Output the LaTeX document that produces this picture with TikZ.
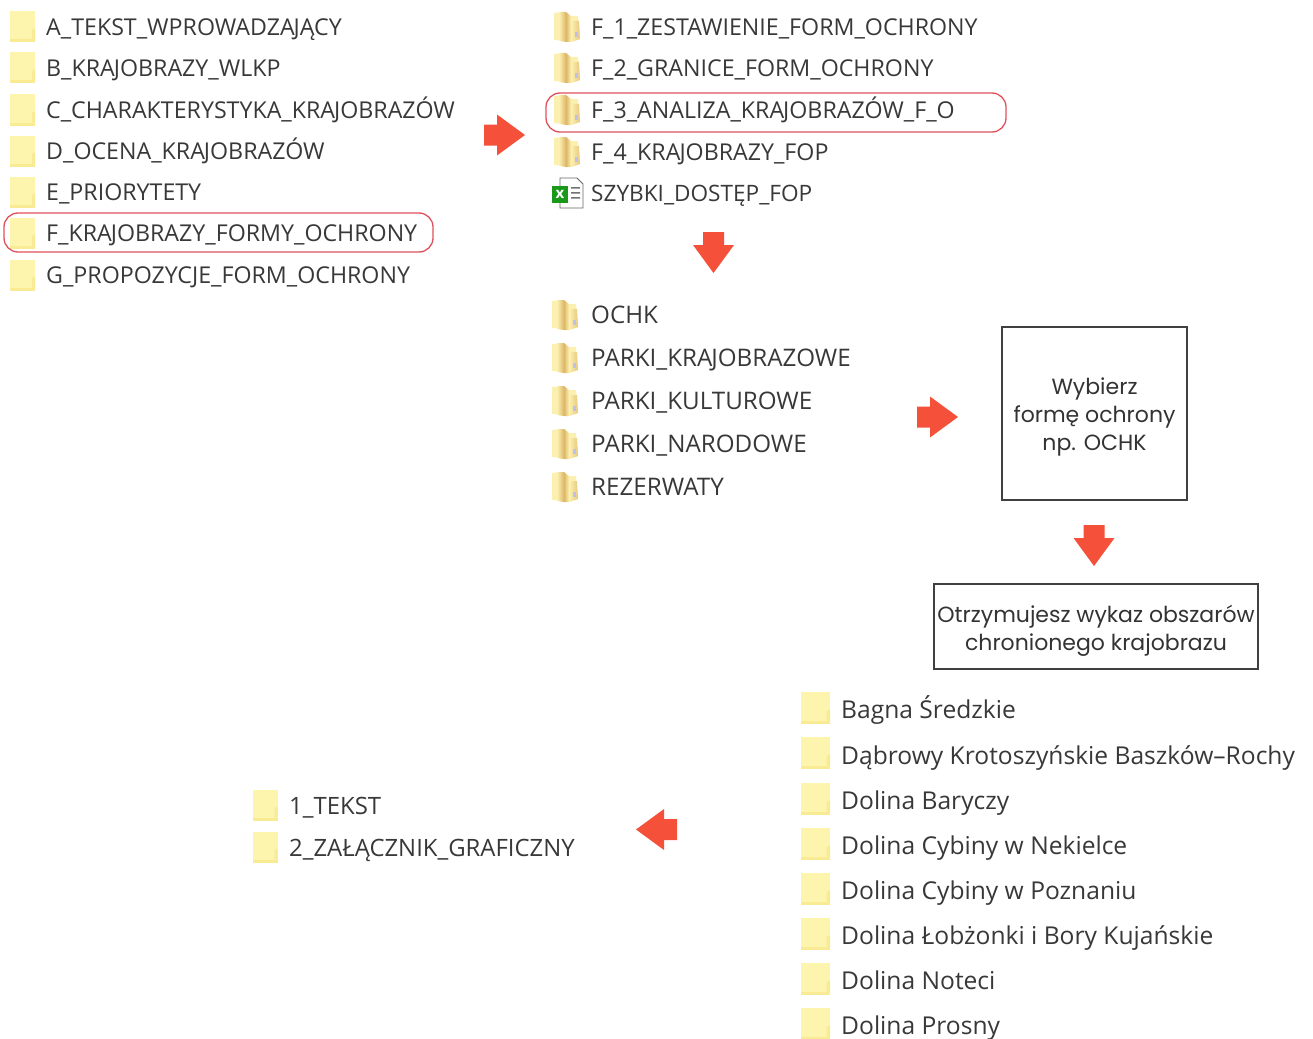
\documentclass[tikz,border=0pt]{standalone}
\usepackage{fontspec}
\setmainfont{Open Sans}
\newfontfamily\boxfont{Poppins}
\usetikzlibrary{shadings}
\definecolor{folderfill}{HTML}{FDF5AE}
\definecolor{foldertab}{HTML}{F9EB93}
\definecolor{openlight}{HTML}{FCF0B0}
\definecolor{opentan}{HTML}{DDB768}
\definecolor{arrowred}{HTML}{F4503A}
\definecolor{ringred}{HTML}{E0505A}
\definecolor{labelgrey}{HTML}{383838}
\newcommand{\jj}{\kern-1pt J}
\tikzset{
  lbl/.style={anchor=base west,inner sep=0pt,text=labelgrey,font=\fontsize{23.2}{25}\selectfont},
  lblmid/.style={lbl,font=\fontsize{23.9}{26}\selectfont},
  lblthird/.style={lbl,font=\fontsize{24.2}{26}\selectfont},
  lblbig/.style={lbl,font=\fontsize{24.6}{26}\selectfont},
  ring/.style={draw=ringred,line width=1.3pt,rounded corners=14pt},
  boxed/.style={draw=black!75,line width=1.5pt,align=center,text=black!80,inner sep=0pt,
    font=\boxfont\fontsize{22}{28}\selectfont},
  folder/.pic={
    \fill[folderfill] (-12.5,-15.5) rectangle (12.5,15.5);
    \fill[foldertab] (-12.5,12.5) rectangle (12.5,15.5);
    \fill[foldertab] (9.5,4) -- (11,1.5) -- (12.5,1.5) -- (12.5,12.5) -- (9.5,12.5) -- cycle;
  },
  bigfolder/.pic={
    \fill[folderfill] (-14.5,-16) rectangle (14.5,16);
    \fill[foldertab] (-14.5,13) rectangle (14.5,16);
    \fill[foldertab] (11,4) -- (12.5,1.5) -- (14.5,1.5) -- (14.5,13) -- (11,13) -- cycle;
  },
  openfolder/.pic={
    \fill[openlight] (-13,-14) -- (-2,-15) -- (-2,14) -- (-13,13) -- cycle;
    \shade[left color=openlight,right color=opentan] (-8,-15) -- (-1,-15) -- (-1,15) -- (-8,14) -- cycle;
    \shade[left color=opentan,right color=openlight] (-1,-15) -- (4,-11) -- (4,15) -- (-1,15) -- cycle;
    \fill[openlight] (4,-11) -- (11,-11) -- (13,12) -- (4,15) -- cycle;
    \shade[left color=openlight,right color=opentan!70!openlight] (4,-6) -- (12,-6) -- (13,12) -- (4,15) -- cycle;
    \fill[black!30!blue!25!white] (8,5) rectangle (11,10);
  },
  blockarrow/.pic={
    \fill[arrowred] (-20.5,-10.5) -- (-7.5,-10.5) -- (-7.5,-20.5) -- (20.5,0) -- (-7.5,20.5) -- (-7.5,10.5) -- (-20.5,10.5) -- cycle;
  },
  excelicon/.pic={
    \draw[black!60,fill=white,line width=0.8pt] (-7,-15) -- (10,-15) -- (16,-9) -- (16,15) -- (-7,15) -- cycle;
    \fill[black!55] (4,-6) rectangle (13,-4.5) (4,-1) rectangle (13,0.5) (4,4) rectangle (13,5.5);
    \fill[green!55!black!90!white] (-15,-7) rectangle (1,10);
    \node[inner sep=0pt,text=white,font=\bfseries\fontsize{15}{15}\selectfont] (xl) at (-7,1) {x};
  }
}
\begin{document}
\begin{tikzpicture}[x=1pt,y=-1pt]
\useasboundingbox (0,0) rectangle (1313,1038);
\clip (0,0) rectangle (1313,1038);
% first list
\foreach \n/\y/\t in {a/27/A\_TEKST\_WPROWADZA\jj ĄCY,b/68/B\_KRA\jj OBRAZY\_WLKP,c/110/C\_CHARAKTERYSTYKA\_KRA\jj OBRAZÓW,d/151/D\_OCENA\_KRA\jj OBRAZÓW,e/192/E\_PRIORYTETY,f/233/F\_KRA\jj OBRAZY\_FORMY\_OCHRONY,g/275/G\_PROPOZYCJE\_FORM\_OCHRONY}{
  \pic at (22.5,\y) {folder};
  \node[lbl] (list1\n) at (46,\y+8.5) {\t};
}
% second list
\foreach \n/\y/\t in {a/27/F\_1\_ZESTAWIENIE\_FORM\_OCHRONY,b/68/F\_2\_GRANICE\_FORM\_OCHRONY,c/110/F\_3\_ANALIZA\_KRA\jj OBRAZÓW\_F\_O,d/152/F\_4\_KRA\jj OBRAZY\_FOP}{
  \pic at (567,\y) {openfolder};
  \node[lbl] (list2\n) at (591,\y+8.5) {\t};
}
\pic at (567,193) {excelicon};
\node[lbl,font=\fontsize{22.6}{25}\selectfont] (list2e) at (591,201.5) {SZYBKI\_DOSTĘP\_FOP};
% third list
\foreach \n/\y/\t in {a/315/OCHK,b/358/PARKI\_KRA\jj OBRAZOWE,c/401/PARKI\_KULTUROWE,d/444/PARKI\_NARODOWE,e/487/REZERWATY}{
  \pic at (565,\y) {openfolder};
  \node[lblthird] (list3\n) at (591,\y+8.5) {\t};
}
% bottom-right list
\foreach \n/\y/\ty/\t in {a/708/709/Bagna Średzkie,b/753/755/Dąbrowy Krotoszyńskie Baszków–Rochy,c/799/800/Dolina Baryczy,d/844/845/Dolina Cybiny w Nekielce,e/889/890/Dolina Cybiny w Poznaniu,f/934/935/Dolina Łobżonki i Bory Kujańskie,g/979/980/Dolina Noteci,h/1024/1025/Dolina Prosny}{
  \pic at (815.5,\y) {bigfolder};
  \node[lblbig] (list4\n) at (841,\ty+9) {\t};
}
% last list
\pic at (265,805) {folder};
\node[lblmid] (list5a) at (289,814.5) {1\_TEKST};
\pic at (265,847) {folder};
\node[lblmid] (list5b) at (289,856.5) {2\_ZAŁĄCZNIK\_GRAFICZNY};
% highlight rings
\draw[ring] (4,213) rectangle (433,252);
\draw[ring] (546,93) rectangle (1006,132);
% boxes
\node[boxed,minimum width=185pt,minimum height=173pt] (choose) at (1094.5,413.5) {};
\node[inner sep=0pt,align=center,text=black!80,font=\boxfont\fontsize{22}{28}\selectfont] (choosetxt) at (1094.5,417) {Wybierz\\formę ochrony\\np. OCHK};
\node[boxed,minimum width=324pt,minimum height=85pt] (result) at (1096,626.5) {\\[-2pt]Otrzymujesz wykaz obszarów\\chronionego krajobrazu};
% block arrows
\pic at (504.5,135) {blockarrow};
\pic[rotate=-90] at (713.5,252.5) {blockarrow};
\pic at (937.5,417) {blockarrow};
\pic[rotate=-90] at (1094,545.5) {blockarrow};
\pic[rotate=180] at (656.5,829.5) {blockarrow};
\end{tikzpicture}
\end{document}
